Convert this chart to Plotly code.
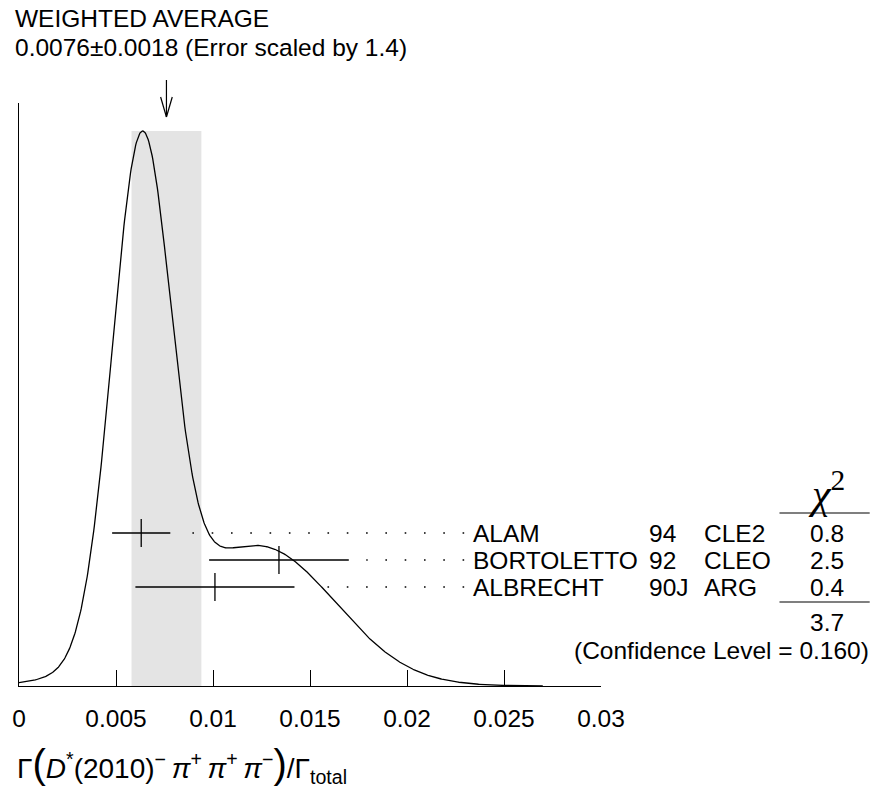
import numpy as np
import plotly.graph_objects as go

# ---------------- data ----------------
authors = ["ALAM", "BORTOLETTO", "ALBRECHT"]
years = ["94", "92", "90J"]
experiments = ["CLE2", "CLEO", "ARG"]
values = [0.0063, 0.0134, 0.0101]
errors = [0.0015, 0.0036, 0.0041]
chi2_values = ["0.8", "2.5", "0.4"]
chi2_total = "3.7"
confidence_level = "0.160"
avg_value = 0.0076
avg_error = 0.0018
error_scale = "1.4"
tick_vals = [0, 0.005, 0.01, 0.015, 0.02, 0.025, 0.03]
tick_text = ["0", "0.005", "0.01", "0.015", "0.02", "0.025", "0.03"]

# ---------------- layout helpers (pixels -> paper) ----------------
W, H = 873, 794
L_PX, R_PX, T_PX, B_PX = 14, 601, 103, 686


def pxx(p):
    return (p - L_PX) / (R_PX - L_PX)


def pxy(p):
    return (B_PX - p) / (B_PX - T_PX)


FONT = "Liberation Sans, Arial, Helvetica, sans-serif"
FS = 24.5

# ideogram: sum of gaussians, area proportional to 1/sigma
xs = np.linspace(0, 0.027, 800)
ys = np.zeros_like(xs)
for v, e in zip(values, errors):
    ys += (1.0 / e**2) * np.exp(-0.5 * ((xs - v) / e) ** 2)
peak = ys.max()
ymax = peak / ((B_PX - 131) / (B_PX - T_PX))

fig = go.Figure()

fig.add_trace(go.Scatter(x=xs, y=ys, mode="lines",
                         line=dict(color="black", width=1.3),
                         hoverinfo="skip", showlegend=False))

row_px = [533 + 27 * i for i in range(len(values))]
row_y = [pxy(p) for p in row_px]

# leader dots (drawn from the label side leftwards so the dots share a grid)
dot_end = (463 - L_PX) / (R_PX - L_PX) * 0.03
for v, e, ry in zip(values, errors, row_y):
    start = v + e + 0.0009
    fig.add_trace(go.Scatter(x=[dot_end, start], y=[ry, ry], mode="lines",
                             line=dict(color="black", width=1.6, dash="1.6px,17.7px"),
                             yaxis="y2", hoverinfo="skip", showlegend=False))

fig.add_trace(go.Scatter(x=values, y=row_y, mode="markers", yaxis="y2",
                         marker=dict(symbol="line-ns-open", size=20, color="black",
                                     line=dict(color="black", width=1.3)),
                         error_x=dict(type="data", array=errors, width=0,
                                      thickness=1.3, color="black"),
                         hoverinfo="skip", showlegend=False))

shapes = []
# shaded band for weighted average
shapes.append(dict(type="rect", xref="x", yref="y",
                   x0=avg_value - avg_error, x1=avg_value + avg_error,
                   y0=0, y1=peak, fillcolor="#e4e4e4", line=dict(width=0),
                   layer="below"))
# arrow
shapes.append(dict(type="line", xref="x", yref="paper", x0=avg_value, x1=avg_value,
                   y0=pxy(80), y1=pxy(117), line=dict(color="black", width=1.2)))
for s in (-1, 1):
    shapes.append(dict(type="line", xref="x", yref="paper",
                       x0=avg_value + s * 0.0003, x1=avg_value,
                       y0=pxy(97), y1=pxy(117), line=dict(color="black", width=1.2)))
# chi2 rules
for p in (513, 602):
    shapes.append(dict(type="line", xref="paper", yref="paper",
                       x0=pxx(781), x1=pxx(872), y0=pxy(p), y1=pxy(p),
                       line=dict(color="black", width=1.2)))

ann = []


def add_text(text, xp, yp, anchor="left", size=FS, family=FONT):
    ann.append(dict(text=text, x=pxx(xp), y=pxy(yp), xref="paper", yref="paper",
                    xanchor=anchor, yanchor="middle", showarrow=False,
                    font=dict(family=family, size=size, color="black")))


add_text("WEIGHTED AVERAGE", 8, 19)
add_text(f"{avg_value:.4f}\u00b1{avg_error:.4f} (Error scaled by {error_scale})", 8, 47)

for a, yv, ex, c2, p in zip(authors, years, experiments, chi2_values, row_px):
    add_text(a, 470, p)
    add_text(yv, 647, p)
    add_text(ex, 703, p)
    add_text(c2, 829, p, anchor="center")

add_text(chi2_total, 829, 622, anchor="center")
add_text(f"(Confidence Level = {confidence_level})", 873, 650, anchor="right")
add_text("<i>\u03c7</i><sup>2</sup>", 828, 490, anchor="center", size=42,
         family="Liberation Serif, Times New Roman, serif")

add_text("\u0393<span style=\"font-size:40px\">(</span><i>D</i><sup>*</sup>(2010)<sup>\u2212</sup>\u2009"
         "<i>\u03c0</i><sup>+</sup>\u2009<i>\u03c0</i><sup>+</sup>\u2009<i>\u03c0</i><sup>\u2212</sup>"
         "<span style=\"font-size:40px\">)</span>/\u0393<sub>total</sub>",
         10, 765, size=28, family="Liberation Sans, Arial, sans-serif")

fig.update_layout(
    width=W, height=H,
    margin=dict(l=L_PX, r=W - R_PX, t=T_PX, b=H - B_PX, pad=0),
    paper_bgcolor="white", plot_bgcolor="white",
    shapes=shapes, annotations=ann,
    xaxis=dict(range=[0, 0.03], tickvals=tick_vals, ticktext=tick_text,
               ticks="inside", ticklen=16, tickwidth=1.2, tickcolor="black",
               showline=True, linecolor="black", linewidth=1.3,
               showgrid=False, zeroline=False, ticklabelstandoff=10,
               tickfont=dict(family=FONT, size=FS, color="black")),
    yaxis=dict(range=[0, ymax], showline=True, linecolor="black", linewidth=1.3,
               showticklabels=False, ticks="", showgrid=False, zeroline=False),
    yaxis2=dict(range=[0, 1], overlaying="y", visible=False),
    showlegend=False,
)

fig.write_html("out.html")
